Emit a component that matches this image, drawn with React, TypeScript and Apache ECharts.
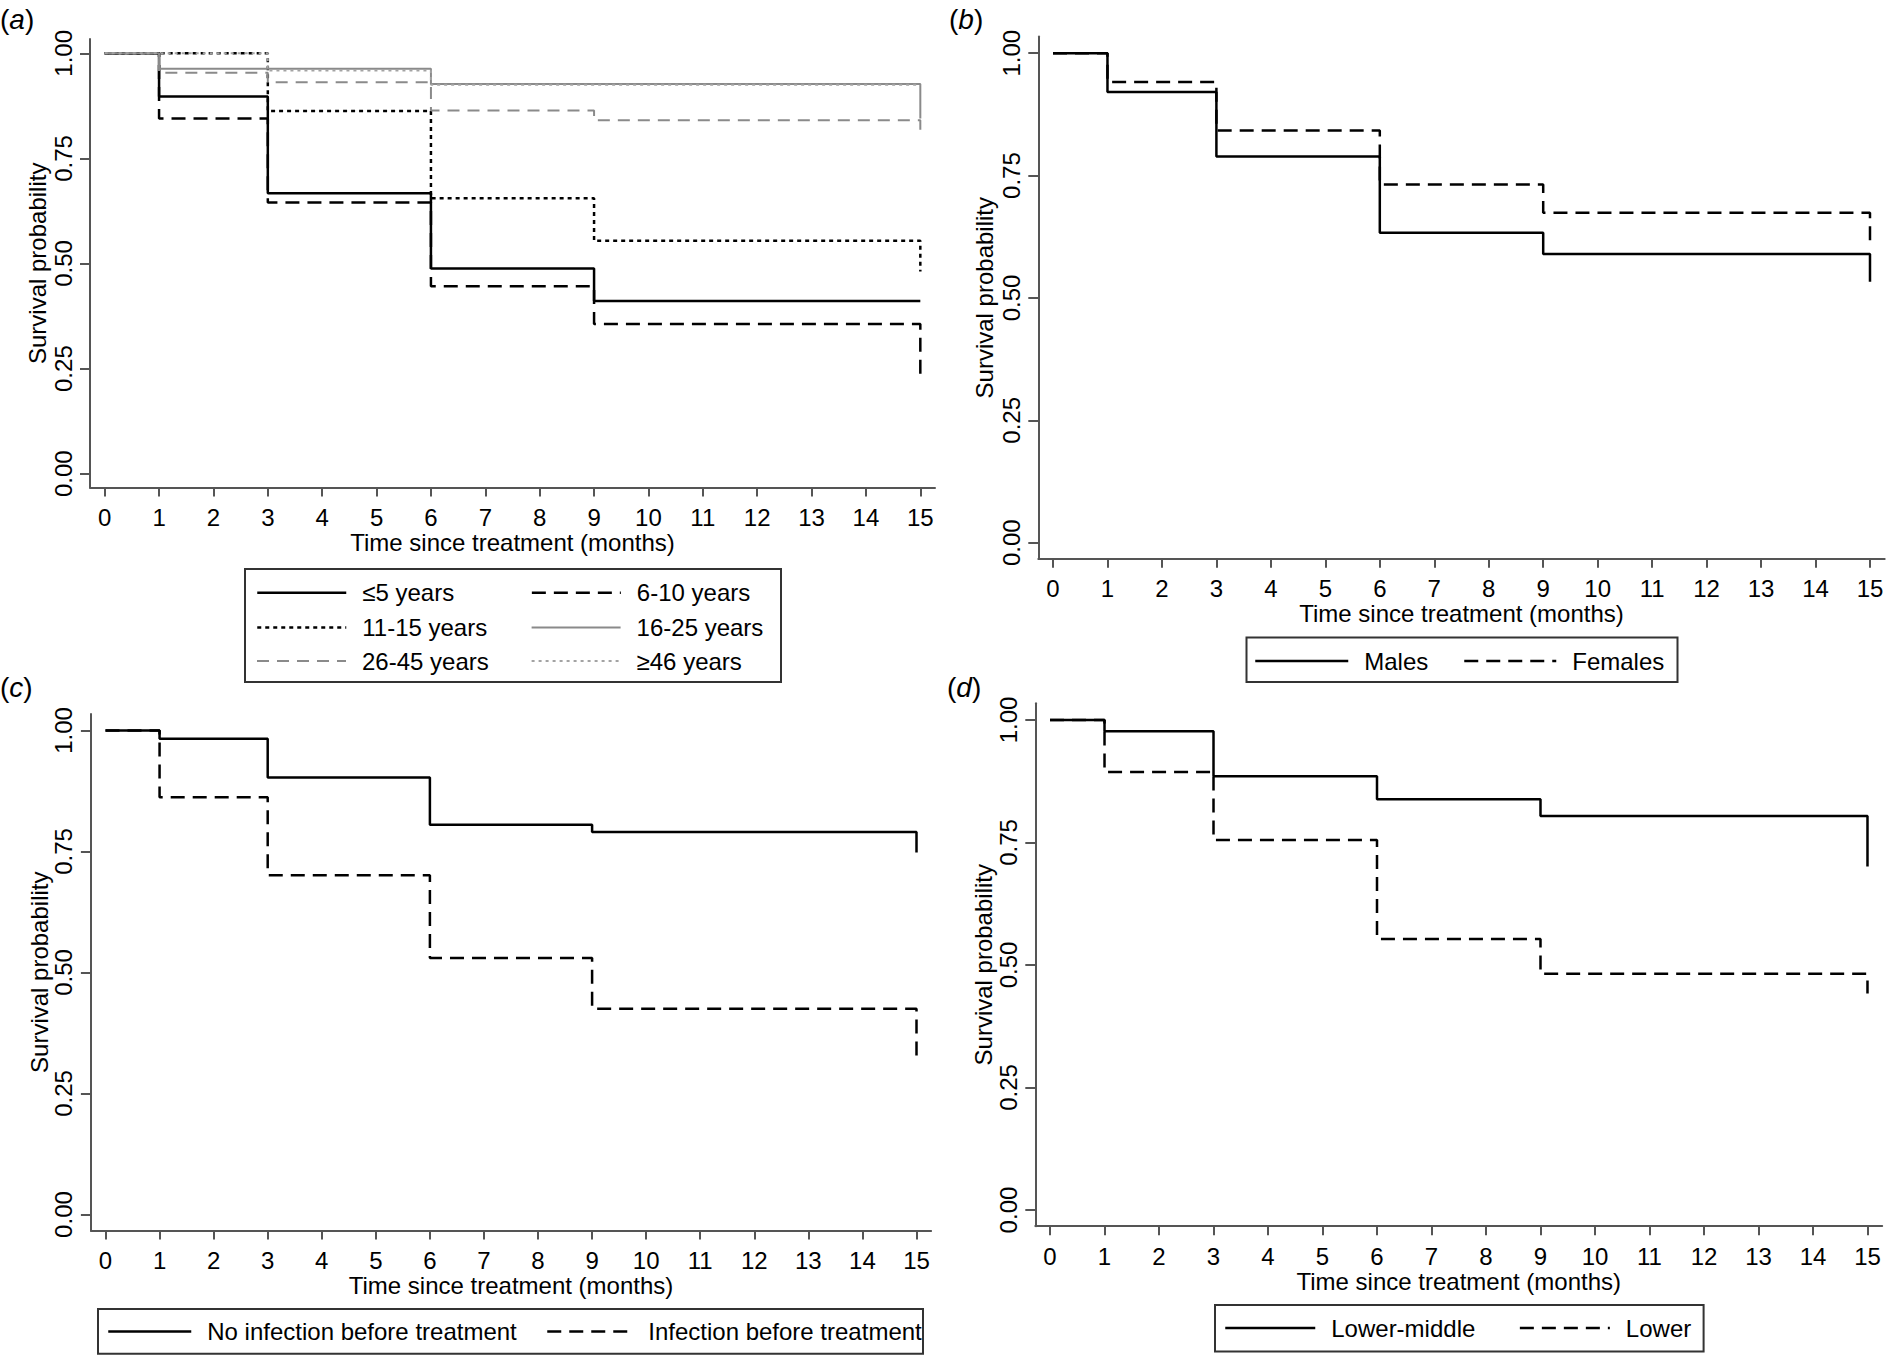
import React, { useEffect, useRef } from "react";
import * as echarts from "echarts";

const FONT = '"Liberation Sans", Arial, Helvetica, sans-serif';

// ---------- data ----------
const months = [0, 1, 3, 6, 9, 15];
const xTicks = [0, 1, 2, 3, 4, 5, 6, 7, 8, 9, 10, 11, 12, 13, 14, 15];
const yTicks = [0, 0.25, 0.5, 0.75, 1];
const xTitle = "Time since treatment (months)";
const yTitle = "Survival probability";

// Panel (a) – age groups: survival from months 0,1,3,6,9 ; last = value after drop at 15
const ageNames = ["≤5 years", "6-10 years", "11-15 years", "16-25 years", "26-45 years", "≥46 years"];
const ageUnder5 = [1, 0.897, 0.667, 0.488, 0.411];
const ageUnder5End: number | null = null;
const age6to10 = [1, 0.845, 0.645, 0.446, 0.356];
const age6to10End: number | null = 0.226;
const age11to15 = [1, 1, 0.863, 0.655, 0.554];
const age11to15End: number | null = 0.481;
const age16to25 = [1, 0.963, 0.963, 0.927, 0.927];
const age16to25End: number | null = 0.845;
const age26to45 = [1, 0.954, 0.931, 0.864, 0.841];
const age26to45End: number | null = 0.8;
const age46plus = [1, 1, 0.959, 0.925, 0.925];
const age46plusEnd: number | null = null;

// Panel (b) – sex
const sexNames = ["Males", "Females"];
const males = [1, 0.921, 0.789, 0.633, 0.59];
const malesEnd: number | null = 0.533;
const females = [1, 0.941, 0.842, 0.732, 0.674];
const femalesEnd: number | null = 0.611;

// Panel (c) – infection
const infNames = ["No infection before treatment", "Infection before treatment"];
const noInfection = [1, 0.983, 0.903, 0.805, 0.79];
const noInfectionEnd: number | null = 0.748;
const infection = [1, 0.862, 0.701, 0.53, 0.425];
const infectionEnd: number | null = 0.319;

// Panel (d) – income
const incNames = ["Lower-middle", "Lower"];
const lowerMiddle = [1, 0.977, 0.885, 0.838, 0.804];
const lowerMiddleEnd: number | null = 0.701;
const lower = [1, 0.894, 0.755, 0.553, 0.482];
const lowerEnd: number | null = 0.442;

const panelLetters = ["a", "b", "c", "d"];

// ---------- helpers ----------
function kmPoints(values: number[], endValue: number | null) {
  const pts: number[][] = values.map((v, i) => [months[i], v]);
  pts.push([months[months.length - 1], values[values.length - 1]]);
  if (endValue !== null) pts.push([months[months.length - 1], endValue]);
  return pts;
}

const X_MIN = -0.27;
const X_MAX = 15.27;
const Y_MIN = -0.033;
const Y_MAX = 1.034;

const grids = [
  { left: 90, top: 39, width: 845, height: 448.6 },
  { left: 1038.3, top: 36.6, width: 846.4, height: 522.2 },
  { left: 90.9, top: 714, width: 840.2, height: 516.5 },
  { left: 1035.3, top: 703.3, width: 846.9, height: 522.9 },
];
const yNameGaps = [41, 42, 31, 40];

const BLACK_DASH = [14, 8];
const BLACK_DOT = [4, 4];
const GREY_DASH = [12, 8];
const GREY_DOT = [3, 4];

type Sty = { color: string; width: number; type: any };
const sSolid: Sty = { color: "#000", width: 2.5, type: "solid" };
const sDash: Sty = { color: "#000", width: 2.5, type: BLACK_DASH };
const sDot: Sty = { color: "#000", width: 2.5, type: BLACK_DOT };
const sGreySolid: Sty = { color: "#8a8a8a", width: 2, type: "solid" };
const sGreyDash: Sty = { color: "#8a8a8a", width: 2, type: GREY_DASH };
const sGreyDot: Sty = { color: "#a3a3a3", width: 2, type: GREY_DOT };

const seriesDefs = [
  { name: ageNames[0], panel: 0, vals: ageUnder5, end: ageUnder5End, sty: sSolid },
  { name: ageNames[1], panel: 0, vals: age6to10, end: age6to10End, sty: sDash },
  { name: ageNames[2], panel: 0, vals: age11to15, end: age11to15End, sty: sDot },
  { name: ageNames[3], panel: 0, vals: age16to25, end: age16to25End, sty: sGreySolid },
  { name: ageNames[4], panel: 0, vals: age26to45, end: age26to45End, sty: sGreyDash },
  { name: ageNames[5], panel: 0, vals: age46plus, end: age46plusEnd, sty: sGreyDot },
  { name: sexNames[0], panel: 1, vals: males, end: malesEnd, sty: sSolid },
  { name: sexNames[1], panel: 1, vals: females, end: femalesEnd, sty: sDash },
  { name: infNames[0], panel: 2, vals: noInfection, end: noInfectionEnd, sty: sSolid },
  { name: infNames[1], panel: 2, vals: infection, end: infectionEnd, sty: sDash },
  { name: incNames[0], panel: 3, vals: lowerMiddle, end: lowerMiddleEnd, sty: sSolid },
  { name: incNames[1], panel: 3, vals: lower, end: lowerEnd, sty: sDash },
];

// legend item placement: [name, iconLeft, rowCenterY, iconWidth]
const legendPlacement: [string, number, number, number][] = [
  [ageNames[0], 256, 592.7, 89],
  [ageNames[1], 530.6, 592.7, 89],
  [ageNames[2], 256, 627.6, 89],
  [ageNames[3], 530.6, 627.6, 89],
  [ageNames[4], 256, 661, 89],
  [ageNames[5], 530.6, 661, 89],
  [sexNames[0], 1254, 661, 93],
  [sexNames[1], 1463, 661, 92],
  [infNames[0], 107, 1331.5, 83],
  [infNames[1], 546, 1331.5, 85],
  [incNames[0], 1224, 1328, 90],
  [incNames[1], 1518.6, 1328, 90],
];

const legendBoxes = [
  { x: 245, y: 569, width: 536, height: 113 },
  { x: 1246.5, y: 637.4, width: 431, height: 44.6 },
  { x: 98, y: 1309, width: 825, height: 44.7 },
  { x: 1215, y: 1305, width: 488.6, height: 46.5 },
];

const letterPos = [
  { x: 0, y: 19 },
  { x: 949, y: 19 },
  { x: 0, y: 687 },
  { x: 947, y: 687 },
];

function buildOption() {
  const AX = "#555";
  const xAxis = grids.map((_, i) => ({
    type: "value",
    gridIndex: i,
    min: X_MIN,
    max: X_MAX,
    name: xTitle,
    nameLocation: "middle",
    nameGap: 42.5,
    nameTextStyle: { fontFamily: FONT, fontSize: 24, color: "#000" },
    axisLine: { show: true, onZero: false, lineStyle: { color: AX, width: 2 } },
    axisTick: { show: true, length: 9, customValues: xTicks, lineStyle: { color: AX, width: 2 } },
    axisLabel: {
      show: true,
      customValues: xTicks,
      margin: 18,
      fontFamily: FONT,
      fontSize: 24,
      color: "#000",
    },
    splitLine: { show: false },
  }));
  const yAxis = grids.map((_, i) => ({
    type: "value",
    gridIndex: i,
    min: Y_MIN,
    max: Y_MAX,
    name: yTitle,
    nameLocation: "middle",
    nameGap: yNameGaps[i],
    nameTextStyle: { fontFamily: FONT, fontSize: 24, color: "#000" },
    axisLine: { show: true, onZero: false, lineStyle: { color: AX, width: 2 } },
    axisTick: { show: true, length: 10, customValues: yTicks, lineStyle: { color: AX, width: 2 } },
    axisLabel: {
      show: true,
      customValues: yTicks,
      rotate: 90,
      margin: 15,
      fontFamily: FONT,
      fontSize: 24,
      color: "#000",
      formatter: (v: number) => v.toFixed(2),
    },
    splitLine: { show: false },
  }));

  const series = seriesDefs.map((d) => ({
    type: "line",
    name: d.name,
    xAxisIndex: d.panel,
    yAxisIndex: d.panel,
    step: "end",
    symbol: "none",
    showSymbol: false,
    silent: true,
    lineStyle: { color: d.sty.color, width: d.sty.width, type: d.sty.type },
    itemStyle: { color: d.sty.color },
    data: kmPoints(d.vals, d.end),
  }));

  const styleByName: Record<string, Sty> = {};
  seriesDefs.forEach((d) => (styleByName[d.name] = d.sty));

  const legend = legendPlacement.map(([name, left, cy, w]) => ({
    show: true,
    left,
    top: cy - 12,
    padding: 0,
    itemGap: 0,
    itemWidth: w,
    itemHeight: 24,
    selectedMode: false,
    data: [name],
    itemStyle: { opacity: 0 },
    lineStyle: {
      color: styleByName[name].color,
      width: styleByName[name].width,
      type: styleByName[name].type,
    },
    textStyle: {
      fontFamily: FONT,
      fontSize: 24,
      lineHeight: 24,
      color: "#000",
      padding: [0, 0, 0, 11],
    },
  }));

  const graphic: any[] = [];
  legendBoxes.forEach((b) =>
    graphic.push({
      type: "rect",
      shape: { x: b.x, y: b.y, width: b.width, height: b.height },
      style: { fill: "none", stroke: "#333", lineWidth: 2 },
      silent: true,
    })
  );
  panelLetters.forEach((l, i) =>
    graphic.push({
      type: "text",
      x: letterPos[i].x,
      y: letterPos[i].y,
      style: {
        text: `{p|(}{i|${l}}{p|)}`,
        verticalAlign: "middle",
        fill: "#000",
        rich: {
          p: { fontFamily: FONT, fontSize: 28, fill: "#000" },
          i: { fontFamily: FONT, fontSize: 28, fontStyle: "italic", fill: "#000" },
        },
      },
      silent: true,
    })
  );

  return {
    animation: false,
    backgroundColor: "#fff",
    grid: grids.map((g) => ({ ...g, containLabel: false, outerBoundsMode: "none" })),
    xAxis,
    yAxis,
    legend,
    series,
    graphic,
  };
}

export default function App() {
  const ref = useRef<HTMLDivElement>(null);
  useEffect(() => {
    if (!ref.current) return;
    const chart = echarts.init(ref.current, undefined, { renderer: "svg" });
    chart.setOption(buildOption() as any);
    return () => chart.dispose();
  }, []);
  return (
    <div
      ref={ref}
      style={{ position: "absolute", left: 0, top: 0, width: 1900, height: 1356, background: "#fff" }}
    />
  );
}
